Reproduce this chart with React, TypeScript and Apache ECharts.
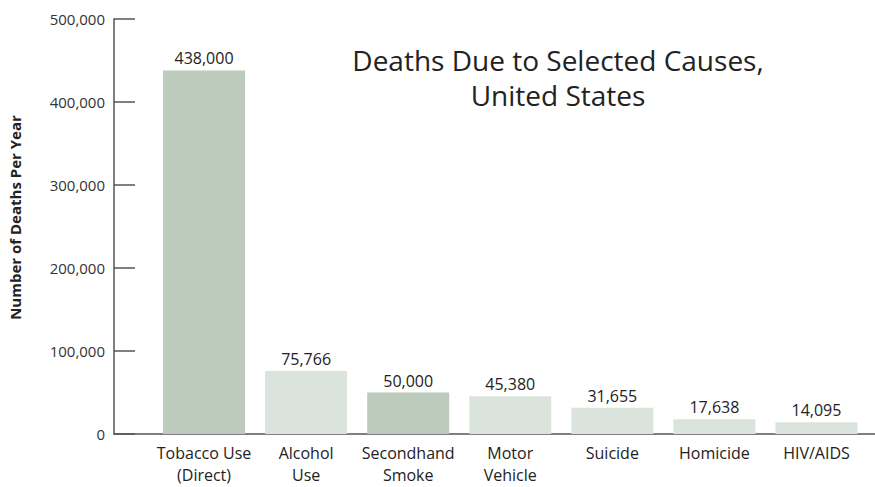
import React, { useEffect, useRef } from "react";
import * as echarts from "echarts";

const categories = [
  "Tobacco Use\n(Direct)",
  "Alcohol\nUse",
  "Secondhand\nSmoke",
  "Motor\nVehicle",
  "Suicide",
  "Homicide",
  "HIV/AIDS",
];
const deaths = [438000, 75766, 50000, 45380, 31655, 17638, 14095];
const barColors = ["#bccbbc", "#dbe4dc", "#bccbbc", "#dbe4dc", "#dbe4dc", "#dbe4dc", "#dbe4dc"];
const titleLines = ["Deaths Due to Selected Causes,", "United States"];
const yAxisName = "Number of Deaths Per Year";

const FONT = "'Open Sans', 'Noto Sans', sans-serif";

export default function App() {
  const ref = useRef<HTMLDivElement>(null);
  useEffect(() => {
    if (!ref.current) return;
    const chart = echarts.init(ref.current, undefined, { renderer: "svg" });
    chart.setOption({
      animation: false,
      backgroundColor: "#ffffff",
      title: {
        text: titleLines.join("\n"),
        left: 553,
        top: 37,
        textAlign: "center",
        textStyle: {
          fontFamily: FONT,
          fontSize: 28,
          fontWeight: "normal",
          color: "#222",
          lineHeight: 35,
        },
      },
      grid: [
        { left: 153, right: 7.5, top: 19, bottom: 53, containLabel: false, outerBoundsMode: "none" },
        { left: 114, right: 0, top: 19, bottom: 53, containLabel: false, outerBoundsMode: "none" },
      ],
      xAxis: [
        {
          type: "category",
          gridIndex: 0,
          data: categories,
          axisLine: { show: false },
          axisTick: { show: false },
          axisLabel: {
            margin: 8,
            fontFamily: FONT,
            fontSize: 16,
            lineHeight: 22,
            color: "#222",
            interval: 0,
            verticalAlign: "top",
          },
        },
        {
          type: "value",
          gridIndex: 1,
          axisLine: { show: true, onZero: false, lineStyle: { color: "#555", width: 1.5 } },
          axisTick: { show: false },
          axisLabel: { show: false },
          splitLine: { show: false },
        },
      ],
      yAxis: [
        {
          type: "value",
          gridIndex: 0,
          min: 0,
          max: 500000,
          interval: 100000,
          offset: 39,
          name: yAxisName,
          nameLocation: "middle",
          nameGap: 92,
          nameTextStyle: {
            fontFamily: FONT,
            fontSize: 15,
            fontWeight: "bold",
            color: "#222",
            padding: [0, 0, 0, 18],
          },
          axisLine: { show: true, lineStyle: { color: "#555", width: 1.5 } },
          axisTick: { show: true, inside: true, length: 21, lineStyle: { color: "#555", width: 1.5 } },
          axisLabel: {
            margin: 9,
            fontFamily: FONT,
            fontSize: 15,
            color: "#333",
            formatter: (v: number) => v.toLocaleString("en-US"),
          },
          splitLine: { show: false },
        },
        { type: "value", gridIndex: 1, show: false },
      ],
      series: [
        {
          type: "bar",
          xAxisIndex: 0,
          yAxisIndex: 0,
          barWidth: 82,
          data: deaths.map((v, i) => ({ value: v, itemStyle: { color: barColors[i] } })),
          label: {
            show: true,
            position: "top",
            distance: 4,
            fontFamily: FONT,
            fontSize: 16,
            color: "#222",
            formatter: (p: any) => Number(p.value).toLocaleString("en-US"),
          },
        },
      ],
    });
    return () => chart.dispose();
  }, []);
  return <div ref={ref} style={{ width: 875, height: 487, position: "absolute", left: 0, top: 0 }} />;
}
